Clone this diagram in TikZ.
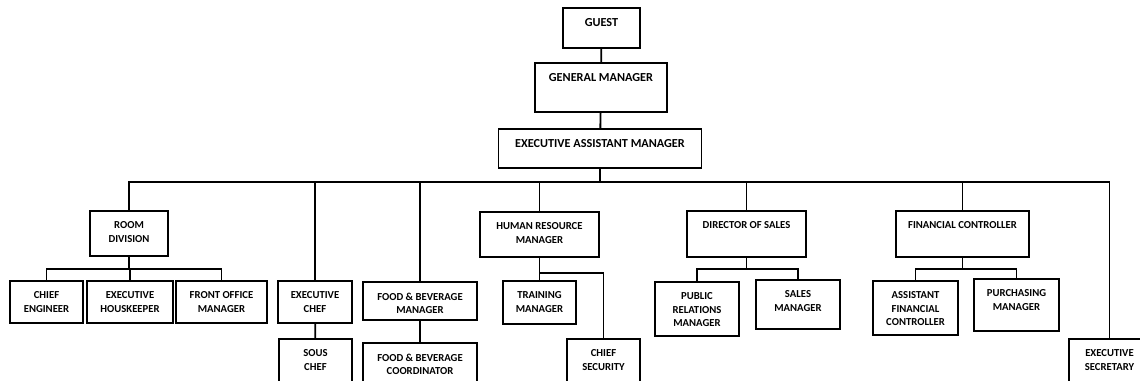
\documentclass[tikz,border=0pt]{standalone}
\usepackage{fontspec}
\setmainfont{Carlito}
\newlength{\px}
\setlength{\px}{0.025cm}
\tikzset{
  every label/.style={font=\bfseries\fontsize{7.6}{9.3}\selectfont},
  posttext/.style={anchor=north, align=center, inner sep=0pt, yshift=-11.5\px},
  post/.style n args={3}{draw, line width=1.2pt, inner sep=0pt,
    minimum width=#1\px, minimum height=#2\px, label={[posttext]north:#3}},
  link/.style={line width=1.3pt},
}
\begin{document}
\begin{tikzpicture}[x=0.025cm, y=-0.025cm]
    \useasboundingbox (0,0) rectangle (1140,381);

    % top of the chart
    \begin{scope}[every label/.append style={font=\bfseries\fontsize{8.7}{9.3}\selectfont}]
    \node[post={77}{40}{GUEST}] (guest) at (601.5,28) {};
    \node[post={132}{49}{GENERAL MANAGER}] (gm) at (601,87.5) {};
    \node[post={203}{39}{EXECUTIVE ASSISTANT MANAGER}] (eam) at (600,148.5) {};
    \end{scope}

    % departments
    \node[post={78}{45}{ROOM\\DIVISION}] (rd) at (129,233.5) {};
    \node[post={74}{42}{EXECUTIVE\\CHEF}] (execchef) at (315,302) {};
    \node[post={114}{38}{FOOD \& BEVERAGE\\MANAGER}] (fbmanager) at (420,301) {};
    \node[post={119}{45}{HUMAN RESOURCE\\MANAGER}] (hr) at (539.5,234.5) {};
    \node[post={119}{46}{DIRECTOR OF SALES}] (dos) at (746.5,234) {};
    \node[post={133}{46}{FINANCIAL CONTROLLER}] (fc) at (962.5,234) {};
    \node[post={81}{56}{EXECUTIVE\\SECRETARY}] (secretary) at (1109.5,367) {};

    % staff
    \node[post={73}{42}{CHIEF\\ENGINEER}] (engineer) at (46.5,302) {};
    \node[post={86}{42}{EXECUTIVE\\HOUSKEEPER}] (housekeeper) at (130,302) {};
    \node[post={91}{42}{FRONT OFFICE\\MANAGER}] (frontoffice) at (221.5,302) {};
    \node[post={73}{56}{SOUS\\CHEF}] (souschef) at (315.5,367) {};
    \node[post={114}{56}{FOOD \& BEVERAGE\\COORDINATOR}] (fbcoord) at (420,371) {};
    \node[post={73}{43}{TRAINING\\MANAGER}] (training) at (539.5,302.5) {};
    \node[post={73}{56}{CHIEF\\SECURITY}] (security) at (603.5,367) {};
    \node[post={84}{54}{PUBLIC\\RELATIONS\\MANAGER}] (pr) at (697,309) {};
    \node[post={84}{49}{SALES\\MANAGER}] (sales) at (798,304.5) {};
    \node[post={85}{54}{ASSISTANT\\FINANCIAL\\CONTROLLER}] (afc) at (915.5,308) {};
    \node[post={85}{52}{PURCHASING\\MANAGER}] (purchasing) at (1016.5,305) {};

    % bus coordinates
    \path (eam.south) ++(0,13.5) coordinate (bus);
    \path (rd.south) ++(0,12) coordinate (rdbus);
    \path (hr.south) ++(0,15) coordinate (hrbus);
    \path (dos.south) ++(0,11) coordinate (dosbus);
    \path (fc.south) ++(0,11) coordinate (fcbus);

    \draw[link] (guest) -- (gm);
    \draw[link] (gm) -- (eam);
    \draw[link] (eam.south) -- (bus);
    \foreach \to in {rd,execchef,fbmanager,hr,dos,fc,secretary}
        \draw[link] (bus) -| (\to.north);

    \draw[link] (rd.south) -- (rdbus);
    \foreach \to in {engineer,housekeeper,frontoffice}
        \draw[link] (rdbus) -| (\to.north);

    \draw[link] (execchef) -- (souschef);
    \draw[link] (fbmanager) -- (fbcoord);

    \draw[link] (hr) -- (training);
    \draw[link] (hrbus) -| (security.north);

    \draw[link] (dos.south) -- (dosbus);
    \foreach \to in {pr,sales}
        \draw[link] (dosbus) -| (\to.north);

    \draw[link] (fc.south) -- (fcbus);
    \foreach \to in {afc,purchasing}
        \draw[link] (fcbus) -| (\to.north);
\end{tikzpicture}
\end{document}
